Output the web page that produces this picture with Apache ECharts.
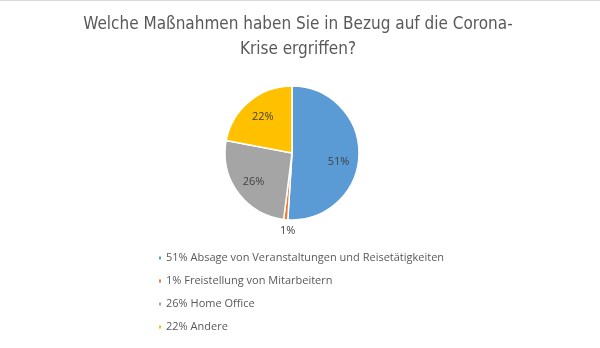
<!DOCTYPE html>
<html><head><meta charset="utf-8">
<script src="https://cdn.jsdelivr.net/npm/echarts@6/dist/echarts.min.js"></script>
<style>html,body{margin:0;padding:0;background:#fff}#c{width:600px;height:348px;border-top:1px solid #d9d9d9;box-sizing:border-box}</style>
</head><body><div id="c"></div>
<script>
const categories = ['Absage von Veranstaltungen und Reisetätigkeiten', 'Freistellung von Mitarbeitern', 'Home Office', 'Andere'];
const values = [51, 1, 26, 22];
const colors = ['#5b9bd5', '#ed7d31', '#a5a5a5', '#ffc000'];
const titleText = 'Welche Maßnahmen haben Sie in Bezug auf die Corona-\nKrise ergriffen?';

const labelShift = [[10, 8], [15, 7], [-9, 7], [-6, -8]];

const chart = echarts.init(document.getElementById('c'));
const data = categories.map((n, i) => {
  const d = {name: n, value: values[i], itemStyle: {color: colors[i]}};
  if (values[i] < 5) {
    d.label = {position: 'outside', color: '#404040'};
    d.labelLine = {show: false, length: 4, length2: 0};
  }
  return d;
});
chart.setOption({
  animation: false,
  title: {
    text: titleText, left: 293, top: 6, textAlign: 'center',
    textStyle: {fontFamily: "'Liberation Sans Narrow', 'DejaVu Sans Condensed', 'Open Sans'", fontSize: 17, fontWeight: 'normal', color: '#595959', lineHeight: 25}
  },
  legend: {
    orient: 'vertical', left: 152, top: 245,
    itemWidth: 4, itemHeight: 5, itemGap: 9, icon: 'rect',
    textStyle: {fontFamily: 'Open Sans', fontSize: 11, color: '#595959', padding: [0,0,0,-1], lineHeight: 14},
    formatter: n => values[categories.indexOf(n)] + '% ' + n,
    selectedMode: false
  },
  series: [{
    type: 'pie', center: [292, 152], radius: 67, startAngle: 90, clockwise: true,
    avoidLabelOverlap: false,
    itemStyle: {borderColor: '#fff', borderWidth: 1.5},
    label: {show: true, position: 'inside', formatter: '{c}%', fontFamily: 'Open Sans', fontSize: 11, color: '#404040'},
    labelLayout: p => ({dx: labelShift[p.dataIndex][0], dy: labelShift[p.dataIndex][1]}),
    emphasis: {disabled: true},
    data: data
  }]
});
</script></body></html>
